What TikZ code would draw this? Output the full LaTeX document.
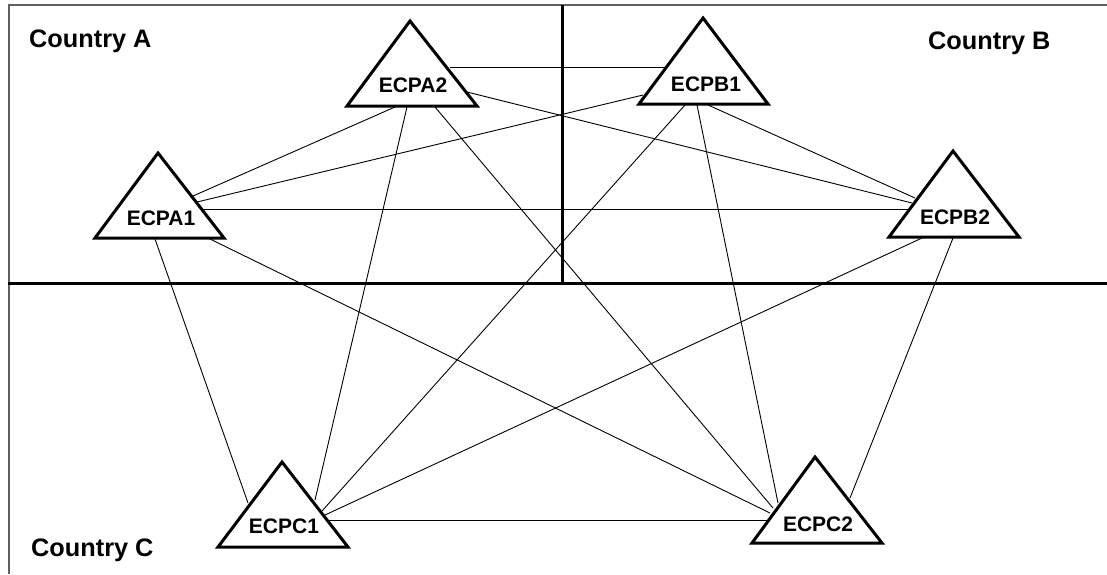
\documentclass[tikz,border=0pt]{standalone}
\usepackage{fontspec}
\setmainfont{Liberation Sans}
\begin{document}
\begin{tikzpicture}[x=1pt,y=-1pt,
  frameline/.style={draw=gray!75!black,line width=1.5pt},
  divider/.style={draw=black,line width=3pt},
  link/.style={draw=black,line width=0.9pt},
  tri/.style={draw=black,fill=white,line width=3pt,line join=miter},
  ecp/.style={inner sep=0pt,font=\fontsize{21}{21}\selectfont\bfseries},
  country/.style={inner sep=0pt,anchor=base west,font=\fontsize{25.3}{25.3}\selectfont\bfseries}]
\useasboundingbox[fill=white] (0,0) rectangle (1107,574);
% window frame (top and left edges)
\coordinate (ftl) at (9,5);
\coordinate (ftr) at (1107,5);
\coordinate (fbl) at (9,574);
\draw[frameline] (ftr) -- (ftl) -- (fbl);
% country dividers
\coordinate (hl) at (8,283);
\coordinate (hr) at (1107,283);
\coordinate (vt) at (562,5);
\coordinate (vb) at (562,283);
\draw[divider] (hl) -- (hr);
\draw[divider] (vt) -- (vb);
% country labels
\node[country] (cA) at (29,47) {Country A};
\node[country] (cB) at (928,49) {Country B};
\node[country] (cC) at (31,556) {Country C};
% connector end points on the triangle borders
\coordinate (A1-A2) at (193,196);
\coordinate (A1-B1) at (197,202);
\coordinate (A1-B2) at (201,209);
\coordinate (A1-C1) at (155,239);
\coordinate (A1-C2) at (210,239);
\coordinate (A2-A1) at (395,107);
\coordinate (A2-B1) at (450,67);
\coordinate (A2-B2) at (467,92);
\coordinate (A2-C1) at (407,107);
\coordinate (A2-C2) at (435,107);
\coordinate (B1-A1) at (643,95);
\coordinate (B1-A2) at (665,67);
\coordinate (B1-B2) at (708,105);
\coordinate (B1-C1) at (685,105);
\coordinate (B1-C2) at (697,105);
\coordinate (B2-A1) at (909,209);
\coordinate (B2-A2) at (912,203);
\coordinate (B2-B1) at (915,198);
\coordinate (B2-C1) at (922,238);
\coordinate (B2-C2) at (953,238);
\coordinate (C1-A1) at (248,503);
\coordinate (C1-A2) at (315,500);
\coordinate (C1-B1) at (322,511);
\coordinate (C1-B2) at (325,515);
\coordinate (C1-C2) at (328,520);
\coordinate (C2-A1) at (770,513);
\coordinate (C2-A2) at (773,508);
\coordinate (C2-B1) at (778,503);
\coordinate (C2-B2) at (850,498);
\coordinate (C2-C1) at (767,520);
% connectors
\draw[link] (A1-A2) -- (A2-A1);
\draw[link] (A1-B1) -- (B1-A1);
\draw[link] (A1-B2) -- (B2-A1);
\draw[link] (A1-C1) -- (C1-A1);
\draw[link] (A1-C2) -- (C2-A1);
\draw[link] (A2-B1) -- (B1-A2);
\draw[link] (A2-B2) -- (B2-A2);
\draw[link] (A2-C1) -- (C1-A2);
\draw[link] (A2-C2) -- (C2-A2);
\draw[link] (B1-B2) -- (B2-B1);
\draw[link] (B1-C1) -- (C1-B1);
\draw[link] (B1-C2) -- (C2-B1);
\draw[link] (B2-C1) -- (C1-B2);
\draw[link] (B2-C2) -- (C2-B2);
\draw[link] (C1-C2) -- (C2-C1);
% triangles
\draw[tri] (158,153) -- (95,238) -- (224,238) -- cycle;
\draw[tri] (410,21) -- (347,106) -- (477,106) -- cycle;
\draw[tri] (703,18) -- (639,104) -- (768,104) -- cycle;
\draw[tri] (953,151) -- (889,237) -- (1019,237) -- cycle;
\draw[tri] (282,462) -- (218,547) -- (348,547) -- cycle;
\draw[tri] (815,457) -- (752,543) -- (882,543) -- cycle;
% labels
\node[ecp] (A1) at (161,218) {ECPA1};
\node[ecp] (A2) at (413,85) {ECPA2};
\node[ecp] (B1) at (706,84) {ECPB1};
\node[ecp] (B2) at (955,217) {ECPB2};
\node[ecp] (C1) at (284,526) {ECPC1};
\node[ecp] (C2) at (818,524) {ECPC2};
\end{tikzpicture}
\end{document}
